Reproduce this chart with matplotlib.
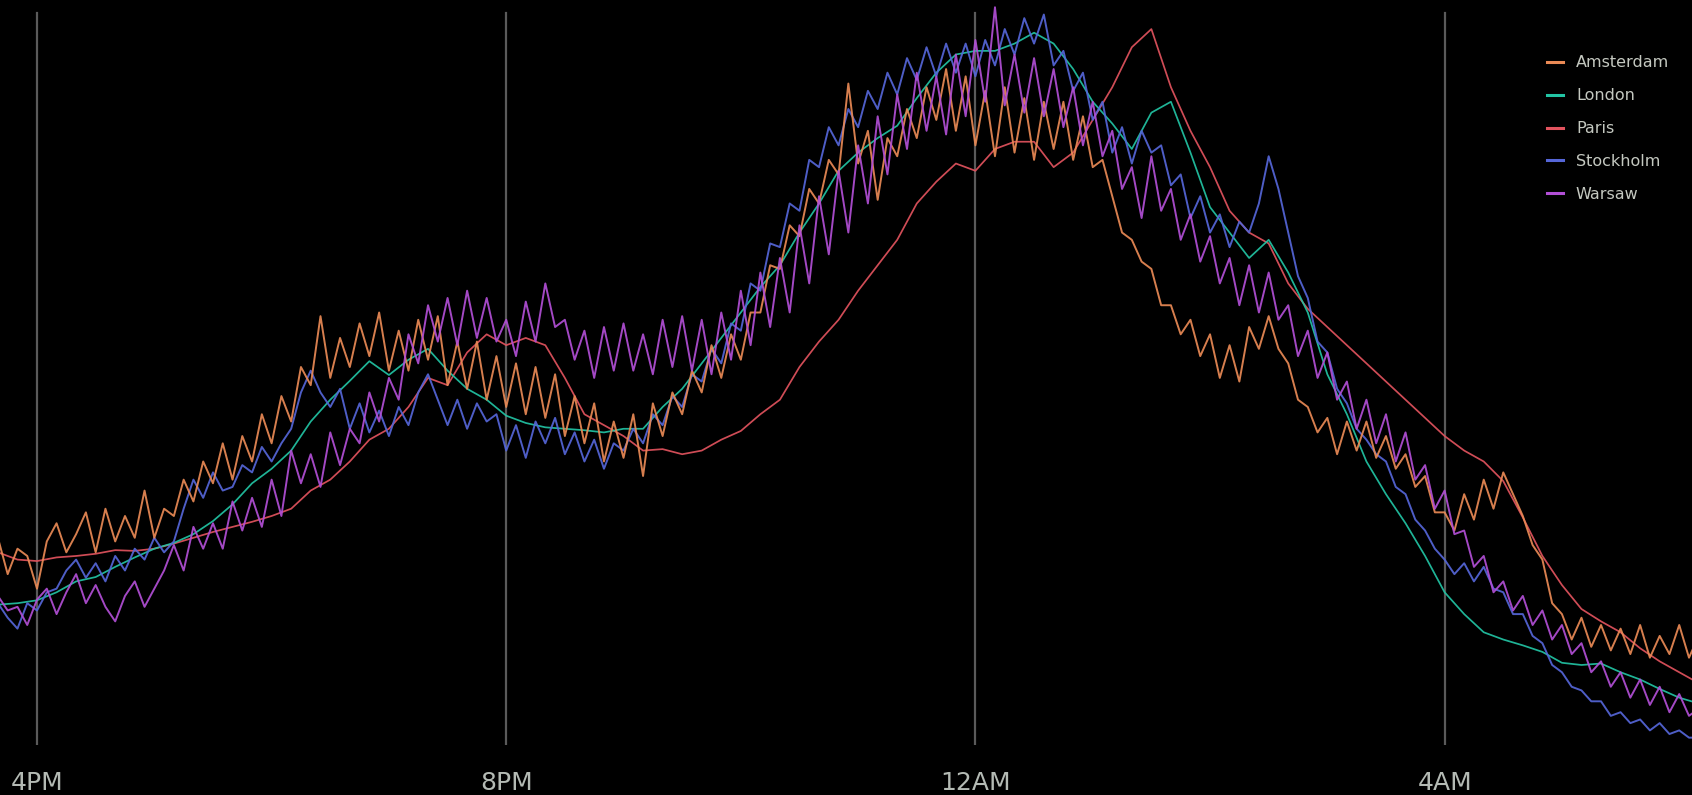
import numpy as np
import pandas as pd
import matplotlib
matplotlib.use("Agg")
import matplotlib.pyplot as plt
import matplotlib.dates as mdates

# activity index, 3:40PM -> 6:10AM
# noisy cities sampled every 5 min, smooth ones every 10 min
amsterdam = [28, 23, 26.5, 25.5, 21, 27.5, 30, 26, 28.5, 31.5, 26, 32, 27.5, 31, 28, 34.5, 28, 32,
             31, 36, 33, 38.5, 35.5, 41, 36, 42, 38.5, 45, 41, 47.5, 44, 51.5, 49, 58.5, 50, 55.5,
             51.5, 57.5, 53, 59, 51, 56.5, 51, 58, 52.5, 58.5, 49, 55, 48.5, 55, 47, 53, 46, 52,
             45, 51.5, 44.5, 50.5, 42, 47.5, 41, 46.5, 38.5, 44, 39, 45, 36.5, 46.5, 42, 48, 45, 51,
             48, 54.5, 50, 56, 52.5, 59, 59, 65.5, 65, 71, 69.5, 76, 74, 80, 78, 90.5, 79.5, 84,
             74.5, 83, 80.5, 87, 83, 90, 85.5, 92.5, 84, 91.5, 82, 89.5, 80.5, 90, 81, 88.5, 80, 88,
             81.5, 88, 80, 86, 79, 80, 75, 70, 69, 66, 65, 60, 60, 56, 58, 53, 56, 50, 54.5, 49.5,
             57, 54, 58.5, 54, 52, 47, 46, 42.5, 44.5, 39.5, 44, 40, 44, 39, 42, 37.5, 39.5, 35,
             36.5, 31.5, 31.5, 29, 34, 30.5, 36, 32, 37, 34, 31, 27, 25, 19, 17.5, 14, 17, 13,
             16, 12.5, 15.5, 12, 16, 11.5, 14.5, 12, 16, 11.5, 14.5]

stockholm = [19, 17, 15.5, 19, 18, 20.5, 21, 23.5, 25, 22.5, 24.5, 22, 25.5, 23.5, 26.5, 25, 28, 26,
             27.5, 32, 36, 33.5, 37, 34.5, 35, 38, 37, 40.5, 38.5, 41, 43, 48, 51, 48, 46, 48.5,
             43, 46.5, 42.5, 45.5, 42, 46, 43.5, 48, 50.5, 47, 43.5, 47, 43, 46.5, 44, 45, 40, 43.5,
             39, 44, 41, 44.5, 39.5, 42.5, 38.5, 41.5, 37.5, 41, 40, 43, 41, 45, 43.5, 47.5, 46, 50.5,
             49.5, 54, 52, 57.5, 56.5, 63, 62, 68.5, 68, 74, 73, 80, 79, 84.5, 82, 87, 84.5, 89.5,
             87, 92, 89, 94, 91, 95.5, 91.5, 96, 92, 96, 91.5, 96.5, 93, 98, 94.5, 99.5, 96, 100,
             93, 95, 89.5, 92, 85.5, 88, 81, 84.5, 79.5, 84, 81, 82, 76.5, 78, 72, 75, 70, 72.5,
             68, 71.5, 70, 74, 80.5, 76, 70, 64, 61, 55, 53.5, 48.5, 46.5, 43, 41.5, 39.5, 38.5, 35,
             34, 30.5, 29, 26.5, 25, 23, 24.5, 22, 24, 21, 20.5, 17.5, 17.5, 14.5, 13.5, 10.5,
             9.5, 7.5, 7, 5.5, 5.5, 3.5, 4, 2.5, 3, 1.5, 2.5, 1, 1.5, 0.5, 0.5]

warsaw = [20, 18, 18.5, 16, 19.5, 21, 17.5, 20.5, 23, 19, 21.5, 18.5, 16.5, 20, 22, 18.5, 21, 23.5,
          27, 23.5, 29.5, 26.5, 30, 26.5, 33, 29, 33.5, 29.5, 36, 31, 40, 35.5, 39.5, 35, 42.5, 38,
          43, 41, 48, 44, 50, 47, 56, 52, 60, 55, 61, 54.5, 62, 55.5, 61, 55, 58, 53, 60.5, 55,
          63, 57, 58, 52.5, 56.5, 50, 57, 51, 57.5, 51, 56, 50.5, 58, 51.5, 58.5, 51, 58, 50.5,
          59, 52.5, 62, 54.5, 64.5, 57, 66.5, 59, 71, 63, 75, 67, 78.5, 70, 82, 74, 86, 78,
          89, 81.5, 92, 84, 91.5, 83.5, 94.5, 86, 96.5, 88, 101, 87.5, 94.5, 86.5, 94, 86,
          92.5, 84.5, 90, 82, 88, 80.5, 84, 76, 79, 72, 80.5, 73, 76, 69, 72.5, 66, 69.5, 63,
          66.5, 60, 65.5, 59, 64.5, 58, 60, 53, 56.5, 50, 53.5, 47, 49.5, 43, 47, 41, 45, 38.5,
          42.5, 36, 38, 32, 34.5, 28.5, 29, 24, 25.5, 20.5, 22, 18, 20, 16, 18, 14, 16, 12,
          13.5, 9.5, 11, 7.5, 9.5, 6, 8.5, 5, 7.5, 4, 6.5, 3.5, 4.5]

london = [18.8, 19.0, 19.4, 20.5, 22, 22.6, 24, 25.3, 26.5, 27.3, 28.5, 30.3, 32.6, 35.5, 37.5,
          40, 44, 47, 49.6, 52.3, 50.4, 52.5, 54, 51, 48.5, 47, 44.8, 43.8, 43.2, 43, 42.8, 42.5,
          43, 43, 46, 48.5, 52, 55.5, 59, 62.5, 65.5, 70, 74, 78.5, 81, 83, 84.7, 88.5, 92, 94.5,
          95, 95, 96, 97.5, 96, 92.5, 88, 85, 81.5, 86.5, 88, 81, 73.5, 70, 66.5, 69, 64.5, 59,
          50.5, 45, 38.5, 34, 30, 25.5, 20.5, 17.5, 15, 14, 13.2, 12.3, 10.8, 10.5, 10.7, 9.5,
          8.5, 7.2, 6, 5.2]

paris = [26, 25, 24.8, 25.3, 25.5, 25.8, 26.3, 26.2, 26.5, 27.2, 28, 28.8, 29.5, 30.2, 31, 32,
         34.5, 36, 38.5, 41.5, 43, 46, 50, 49, 53.5, 56, 54.5, 55.5, 54.5, 50, 45, 43.5, 42, 40,
         40.2, 39.5, 40, 41.5, 42.7, 45, 47, 51.5, 55, 58, 62, 65.5, 69, 74, 77, 79.5, 78.5,
         81.5, 82.5, 82.5, 79, 81, 85.5, 90, 95.5, 98, 90, 84, 79, 73, 70, 68.5, 63, 59.5, 57,
         54.5, 52, 49.5, 47, 44.5, 42, 40, 38.5, 35.8, 30.8, 25.5, 21.5, 18.2, 16.5, 15, 12.8,
         11, 9.5, 8]

cities = ["Amsterdam", "London", "Paris", "Stockholm", "Warsaw"]
colors = {"Amsterdam": "#ea8a55", "London": "#22c4a4", "Paris": "#e2535e",
          "Stockholm": "#5566d8", "Warsaw": "#b24fd6"}
widths = {"Amsterdam": 1.4, "London": 1.25, "Paris": 1.25, "Stockholm": 1.4, "Warsaw": 1.4}

t5 = pd.date_range("2019-03-01 15:40", periods=len(amsterdam), freq="5min")
t10 = pd.date_range("2019-03-01 15:40", periods=len(london), freq="10min")

series = {"Amsterdam": (t5, amsterdam), "London": (t10, london), "Paris": (t10, paris),
          "Stockholm": (t5, stockholm), "Warsaw": (t5, warsaw)}

fig = plt.figure(figsize=(16.92, 7.95), dpi=100, facecolor="black")
ax = fig.add_axes([0, 0.063, 1, 0.937])
ax.set_facecolor("black")

ticks = pd.to_datetime(["2019-03-01 16:00", "2019-03-01 20:00",
                        "2019-03-02 00:00", "2019-03-02 04:00"])
for tk in ticks:
    ax.axvline(tk, ymin=0, ymax=0.982, color="#5a5a5a", lw=1.6, zorder=0)

# draw order: smooth ones underneath
for name in ["Paris", "London", "Stockholm", "Amsterdam", "Warsaw"]:
    tt, vv = series[name]
    ax.plot(tt, vv, color=colors[name], lw=widths[name], alpha=0.92, label=name, zorder=2)

ax.set_xlim(pd.Timestamp("2019-03-01 15:41:04"), pd.Timestamp("2019-03-02 06:06:32"))
ax.set_ylim(-0.5, 102)

ax.set_xticks(ticks)
ax.set_xticklabels(["4PM", "8PM", "12AM", "4AM"])
ax.tick_params(axis="x", length=0, pad=19, labelsize=18, labelcolor="#b4bab4")
ax.set_yticks([])
for s in ax.spines.values():
    s.set_visible(False)

handles, labels = ax.get_legend_handles_labels()
order = [labels.index(c) for c in cities]
leg = ax.legend([handles[i] for i in order], [labels[i] for i in order],
                loc="upper right", bbox_to_anchor=(0.995, 0.945), frameon=False,
                fontsize=11.5, handlelength=1.0, handletextpad=0.8, labelspacing=1.12)
for txt in leg.get_texts():
    txt.set_color("#c4c8c0")
for ln in leg.get_lines():
    ln.set_linewidth(2.2)
    ln.set_alpha(1)

fig.savefig("out.png", dpi=100, facecolor="black")
